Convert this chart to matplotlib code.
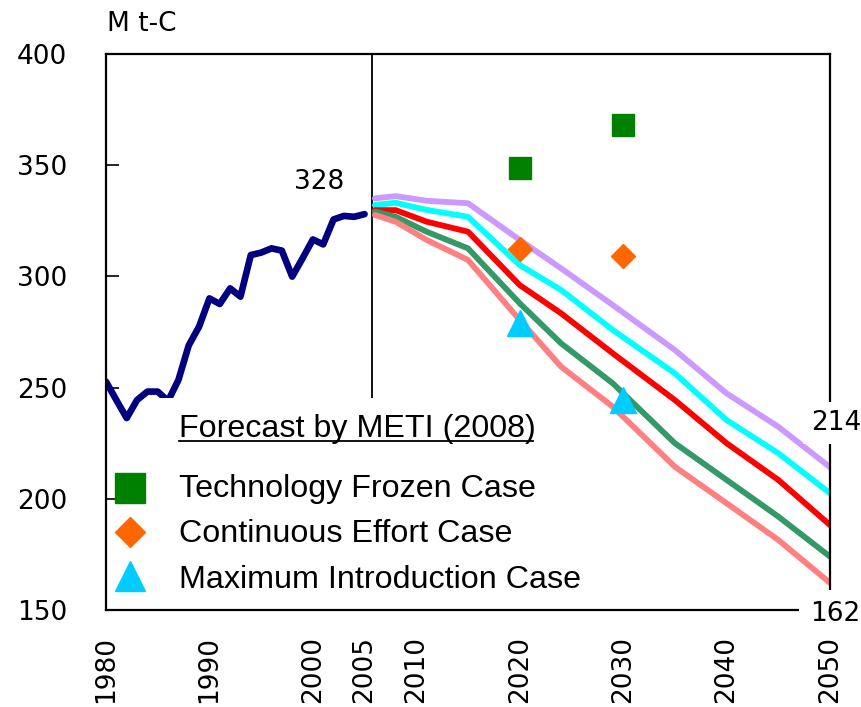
import matplotlib
matplotlib.use("Agg")
import matplotlib.pyplot as plt
from matplotlib.patches import Rectangle

# historical emissions (Mt-C)
hist_years = list(range(1980, 2006))
hist_vals = [252.7, 244.4, 236.3, 244.4, 248.2, 248.2, 244.0, 253.4, 269.0, 277.4,
             290.1, 287.6, 294.6, 290.9, 309.6, 310.7, 312.6, 311.6, 299.9, 308.1,
             316.6, 314.4, 325.6, 327.2, 326.8, 328.0]

# projection scenarios
proj_years = [2006, 2008, 2011, 2015, 2020, 2024, 2029, 2035, 2040, 2045, 2050]
proj_lavender = [335.1, 336.1, 334.0, 332.9, 316.4, 303.6, 287.1, 266.9, 247.4, 232.4, 214.2]
proj_cyan = [332.1, 333.1, 329.9, 326.8, 305.1, 293.9, 275.9, 256.4, 235.4, 220.5, 202.5]
proj_red = [329.8, 329.8, 324.6, 320.1, 296.1, 283.4, 265.4, 244.4, 225.0, 208.5, 188.2]
proj_green = [329.1, 326.8, 320.1, 312.6, 287.9, 269.9, 251.9, 225.0, 208.5, 192.0, 174.0]
proj_salmon = [327.6, 324.6, 316.4, 307.4, 280.4, 259.4, 241.4, 214.4, 198.0, 181.5, 162.2]

# METI (2008) forecast points
meti_years = [2020, 2030]
frozen_vals = [348.7, 368.0]
effort_vals = [312.3, 309.2]
maxintro_vals = [279.0, 244.4]
legend_title = "Forecast by METI (2008)"
case_labels = ["Technology Frozen Case", "Continuous Effort Case", "Maximum Introduction Case"]

xticks = [1980, 1990, 2000, 2005, 2010, 2020, 2030, 2040, 2050]
yticks = [150, 200, 250, 300, 350, 400]

W, H = 861, 707
fig = plt.figure(figsize=(W / 100, H / 100), dpi=100)
ax = fig.add_axes([106 / W, 97 / H, 724 / W, 556 / H])


def axf(px, py):
    # pixel position in the picture -> axes fraction
    return (px - 106) / 724, (610 - py) / 556


ax.plot(hist_years, hist_vals, color="#000080", lw=4.8, solid_capstyle="round", zorder=3)
for vals, c in [(proj_lavender, "#CC99FF"), (proj_cyan, "#00FFFF"), (proj_red, "#FF0000"),
                (proj_green, "#339966"), (proj_salmon, "#FF8080")]:
    ax.plot(proj_years, vals, color=c, lw=4.2, solid_capstyle="round", zorder=3)

ax.axvline(2005.75, color="black", lw=1.3, zorder=2)

# white area behind the legend
x0, y0 = axf(150, 398)
x1, _ = axf(545, 0)
ax.add_patch(Rectangle((x0, -0.01), x1 - x0, y0 + 0.01, transform=ax.transAxes,
                       facecolor="white", edgecolor="none", zorder=4))

ax.plot(meti_years, frozen_vals, "s", color="#008000", ms=16, zorder=6, ls="none")
ax.plot(meti_years, effort_vals, "D", color="#FF6600", ms=12.5, zorder=6, ls="none")
ax.plot(meti_years, maxintro_vals, "^", color="#00CCFF", ms=18.5, zorder=6, ls="none")

# legend drawn by hand
leg_font = dict(family="Liberation Sans", fontsize=23.2, color="black")
tx, ty = axf(179, 437)
ax.text(tx, ty, legend_title, transform=ax.transAxes, va="baseline", ha="left", zorder=7, **leg_font)
ux0, uy = axf(179, 441)
ux1, _ = axf(533, 441)
ax.plot([ux0, ux1], [uy, uy], transform=ax.transAxes, color="black", lw=1.3, zorder=7)
text_base = [497, 542, 588]
mark_ctr = [487.5, 532, 576]
leg_style = [("s", "#008000", 22.3), ("D", "#FF6600", 15.3), ("^", "#00CCFF", 21.6)]
for tb, mc, (m, c, s), lab in zip(text_base, mark_ctr, leg_style, case_labels):
    mx, my = axf(129.5, mc)
    ax.plot([mx], [my], m, color=c, ms=s, transform=ax.transAxes, zorder=7)
    lx, ly = axf(179, tb)
    ax.text(lx, ly, lab, transform=ax.transAxes, va="baseline", ha="left", zorder=7, **leg_font)

# value labels
seg_font = dict(family="DejaVu Sans", fontsize=19)
ax.annotate(f"{hist_vals[-1]:.0f}", xy=(hist_years[-1], hist_vals[-1]), xytext=(-20, 25),
            textcoords="offset pixels", ha="right", va="baseline", **seg_font)
ax.annotate(f"{proj_lavender[-1]:.0f}", xy=(proj_years[-1], proj_lavender[-1]), xytext=(6, 44),
            textcoords="offset pixels", ha="center", va="center", zorder=8, annotation_clip=False,
            bbox=dict(boxstyle="square,pad=0.3", fc="white", ec="none"), **seg_font)
ax.annotate(f"{proj_salmon[-1]:.0f}", xy=(proj_years[-1], proj_salmon[-1]), xytext=(5, -31),
            textcoords="offset pixels", ha="center", va="center", zorder=8, annotation_clip=False,
            bbox=dict(boxstyle="square,pad=0.4", fc="white", ec="none"), **seg_font)

ax.set_xlim(1980, 2050)
ax.set_ylim(150, 400)
ax.set_xticks(xticks)
ax.set_yticks(yticks)
ax.set_xticklabels([str(t) for t in xticks], rotation=90, **seg_font)
ax.set_yticklabels([str(t) for t in yticks], **seg_font)
ax.tick_params(axis="y", direction="in", length=9, width=1.2, pad=28)
ax.tick_params(axis="x", length=0, pad=19)
for sp in ax.spines.values():
    sp.set_linewidth(1.6)
    sp.set_zorder(5)

fig.text(107 / W, 1 - 24 / H, "M t-C", ha="left", va="center", **seg_font)

fig.savefig("out.png", dpi=100, facecolor="white")
